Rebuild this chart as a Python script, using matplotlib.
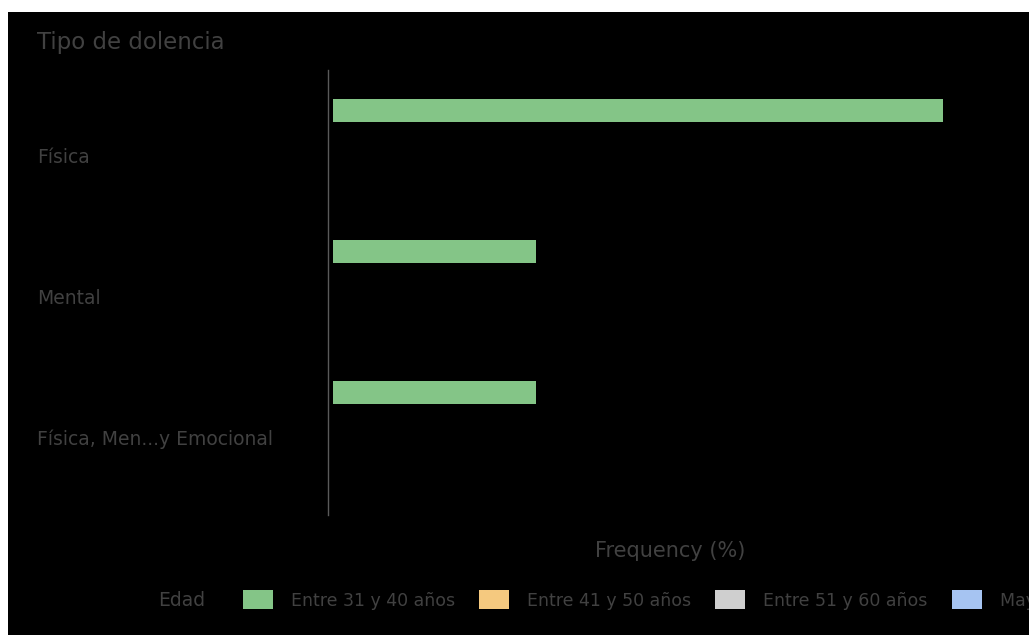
import numpy as np
import matplotlib.pyplot as plt
from matplotlib.patches import Rectangle

# === Daten ===
categorias = ['Física', 'Mental', 'Física, Men...y Emocional']
grupos_edad = ['Entre 31 y 40 años', 'Entre 41 y 50 años',
               'Entre 51 y 60 años', 'Mayor de 60 años']
frecuencia = [
    [60, 20, 20],   # Entre 31 y 40 años
    [0, 0, 0],      # Entre 41 y 50 años
    [0, 0, 0],      # Entre 51 y 60 años
    [0, 0, 0],      # Mayor de 60 años
]
colores = ['#84c587', '#f5c97f', '#cfcfcf', '#a6c4f2']

txt_color = '#414141'
plt.rcParams['font.family'] = ['DejaVu Sans']

W, H = 1029, 635
fig = plt.figure(figsize=(W / 100, H / 100), dpi=100, facecolor='white')

# schwarzer Hintergrund (oben und links ein schmaler weisser Rand)
fig.patches.append(Rectangle((8 / W, 0), 1, (H - 12) / H, transform=fig.transFigure,
                             facecolor='black', edgecolor='none', zorder=-10))

ax = fig.add_axes([328 / W, 1 - 515 / H, (1013 - 328) / W, (515 - 70) / H])
ax.set_facecolor('none')

y = np.arange(len(categorias))
offsets = [-0.316, -0.105, 0.105, 0.316]
bars = []
for serie, vals, col, off in zip(grupos_edad, frecuencia, colores, offsets):
    b = ax.barh(y + off, vals, height=0.163, color=col, label=serie)
    bars.append(b)

ax.set_xlim(-0.49, 66.9)
ax.set_ylim(2.553, -0.603)

# Achsen
for s in ['top', 'right', 'bottom']:
    ax.spines[s].set_visible(False)
ax.spines['left'].set_color('#5a5a5a')
ax.spines['left'].set_linewidth(1)
ax.set_xticks([])
ax.set_yticks(y)
ax.set_yticklabels(categorias, fontsize=13.5, color=txt_color, ha='left')
ax.tick_params(axis='y', length=0, pad=(328 - 37) * 0.72)

ax.set_xlabel('Frequency (%)', fontsize=15, color=txt_color, labelpad=19)

# Titel
fig.text(37 / W, 1 - 42 / H, 'Tipo de dolencia', fontsize=16.5, color=txt_color,
         ha='left', va='center')

# Legende
fig.text(158 / W, 1 - 600 / H, 'Edad', fontsize=13.5, color=txt_color,
         ha='left', va='center')
fs = 12.5
px = fs * 100 / 72
leg = fig.legend(handles=bars, labels=grupos_edad, ncol=4, loc='center left',
                 bbox_to_anchor=(243 / W, 1 - 600 / H), frameon=False,
                 fontsize=fs, labelcolor=txt_color, borderpad=0, borderaxespad=0,
                 handlelength=30 / px, handleheight=22 / px,
                 handletextpad=18 / px, columnspacing=24 / px)

plt.savefig('out.png', dpi=100, facecolor=fig.get_facecolor())
